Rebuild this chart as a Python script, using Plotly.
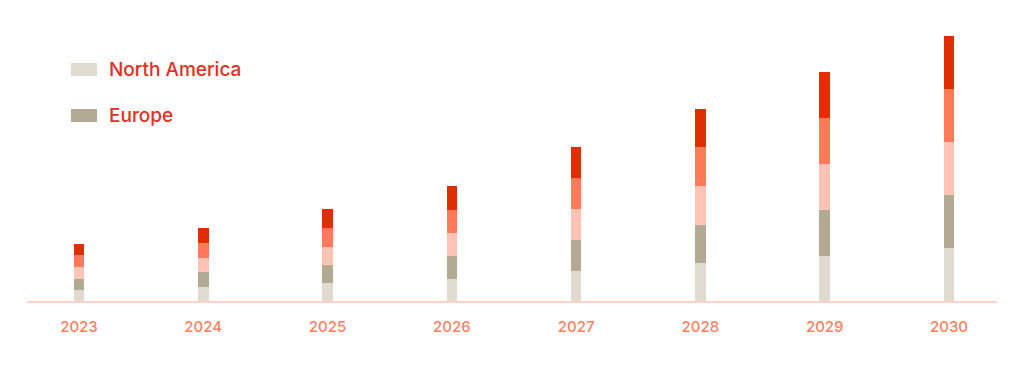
import plotly.graph_objects as go

years = [2023, 2024, 2025, 2026, 2027, 2028, 2029, 2030]
year_labels = ["2023", "2024", "2025", "2026", "2027", "2028", "2029", "2030"]

north_america = [10.8, 13.9, 17.6, 22.2, 29.9, 37.6, 45.2, 52.8]
europe = [11.6, 14.9, 18.5, 23.3, 31.0, 38.6, 46.0, 53.0]
asia_pacific = [11.6, 14.7, 18.4, 23.0, 31.0, 38.7, 46.0, 53.0]
latin_america = [11.7, 14.6, 18.6, 23.0, 31.0, 38.7, 45.7, 53.0]
middle_east_africa = [11.7, 14.7, 18.7, 23.5, 30.7, 38.3, 46.0, 53.3]

series_names = ["North America", "Europe", "Asia Pacific", "Latin America", "Middle East & Africa"]
series_values = [north_america, europe, asia_pacific, latin_america, middle_east_africa]
series_colors = ["#e0dbd0", "#b3aa94", "#ffc4b6", "#ff7a58", "#e02e00"]

FONT = "Inter, Open Sans, sans-serif"

fig = go.Figure()
for name, vals, col in zip(series_names, series_values, series_colors):
    fig.add_trace(go.Bar(
        x=years, y=vals, name=name, width=0.085,
        marker=dict(color=col, line=dict(width=0)),
        showlegend=False,
    ))

# page body adds an 8px offset; figure sized so the window shows 1024x370
OFF = 8
W, H = 1024 - OFF, 370 - OFF
ml, mr, mt, mb = 27 - OFF, 27, 20 - OFF, 69
pw, ph = W - ml - mr, H - mt - mb

def px_x(px):
    return (px - OFF - ml) / pw

def px_y(py):
    return (H - mb - (py - OFF)) / ph

shapes = []
annotations = []
legend_rows = [(69.5, 0), (115.5, 1)]
for cy, idx in legend_rows:
    shapes.append(dict(
        type="rect", xref="paper", yref="paper",
        x0=px_x(71), x1=px_x(97), y0=px_y(cy - 6.5), y1=px_y(cy + 6.5),
        fillcolor=series_colors[idx], line=dict(width=0), layer="above",
    ))
    annotations.append(dict(
        xref="paper", yref="paper", x=px_x(107), y=px_y(cy),
        xanchor="left", yanchor="middle", showarrow=False,
        text=series_names[idx],
        font=dict(family=FONT, size=19, color="#e0301e", weight=500),
    ))

fig.update_layout(
    width=W, height=H,
    margin=dict(l=ml, r=mr, t=mt, b=mb),
    barmode="stack",
    bargap=0,
    plot_bgcolor="white", paper_bgcolor="white",
    shapes=shapes, annotations=annotations,
    showlegend=False,
    xaxis=dict(
        range=[2022.582, 2030.386],
        tickvals=years, ticktext=year_labels,
        showgrid=False, zeroline=False,
        showline=True, linecolor="#ffd3c8", linewidth=1.5,
        ticks="outside", ticklen=11, tickcolor="rgba(0,0,0,0)",
        tickfont=dict(family=FONT, size=15, color="#ff7f5e", weight=500),
    ),
    yaxis=dict(
        range=[0, ph], visible=False, showgrid=False, zeroline=False,
    ),
)

fig.write_html("out.html")
